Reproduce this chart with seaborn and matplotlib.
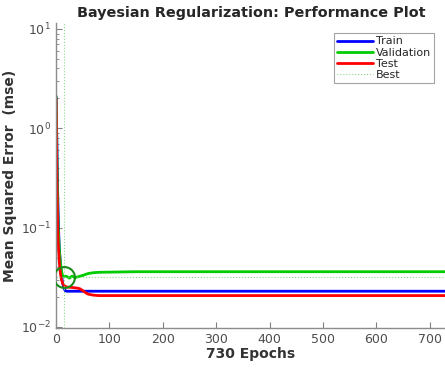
import matplotlib
matplotlib.use("Agg")
import matplotlib.pyplot as plt
import seaborn as sns

# ── data ─────────────────────────────────────────────────────────────────────
train_epochs = [0, 1, 2, 3, 4, 5, 6, 8, 10, 12, 15, 17, 20, 30, 60, 100, 730]
train_mse = [2.1, 1.0, 0.45, 0.22, 0.13, 0.085, 0.062, 0.044, 0.034, 0.028,
             0.0245, 0.0232, 0.0229, 0.0229, 0.0229, 0.0229, 0.0229]

val_epochs = [0, 1, 2, 3, 4, 6, 8, 10, 12, 15, 18, 22, 25, 30, 35, 40, 45,
              50, 55, 60, 70, 80, 150, 730]
val_mse = [2.1, 0.9, 0.35, 0.16, 0.1, 0.06, 0.045, 0.037, 0.033, 0.032,
           0.0325, 0.0318, 0.031, 0.0325, 0.0315, 0.0318, 0.0325, 0.033,
           0.0338, 0.0345, 0.0352, 0.0355, 0.036, 0.036]

test_epochs = [0, 1, 2, 3, 4, 6, 8, 10, 13, 16, 20, 30, 40, 45, 50, 55, 60,
               70, 80, 100, 730]
test_mse = [2.0, 0.55, 0.2, 0.1, 0.07, 0.045, 0.035, 0.03, 0.027, 0.0258,
            0.0252, 0.025, 0.0246, 0.0242, 0.0232, 0.0222, 0.0214, 0.0209,
            0.0207, 0.0207, 0.0207]

best_epoch = 15
best_mse = 0.032
n_epochs = 730

# ── plot ─────────────────────────────────────────────────────────────────────
sns.set_style("white")
plt.rcParams["font.family"] = ["DejaVu Sans"]

fig = plt.figure(figsize=(4.45, 3.71), dpi=100)
ax = fig.add_axes([0.126, 0.116, 0.876, 0.822])

sns.lineplot(x=train_epochs, y=train_mse, ax=ax, color=(0, 0, 1), lw=2, label="Train")
sns.lineplot(x=val_epochs, y=val_mse, ax=ax, color=(0, 0.8, 0), lw=2, label="Validation")
sns.lineplot(x=test_epochs, y=test_mse, ax=ax, color=(1, 0, 0), lw=2, label="Test")
ax.axvline(best_epoch, color=(0.55, 0.85, 0.55), lw=0.8, ls=":", label="Best")
ax.axhline(best_mse, color=(0.55, 0.85, 0.55), lw=0.8, ls=":")

ax.set_yscale("log")
ax.set_xlim(0, n_epochs)
ax.set_ylim(10 ** -2.01, 10 ** 1.06)

# best-point circle
ax.plot([best_epoch], [best_mse], marker="o", ms=15, mfc="none",
        mec=(0.1, 0.55, 0.1), mew=1.5, zorder=5)

ax.set_xticks(range(0, 701, 100))
ax.set_title("Bayesian Regularization: Performance Plot", fontsize=10.4,
             fontweight="bold", pad=4)
ax.set_xlabel(f"{n_epochs} Epochs", fontsize=10, fontweight="bold", labelpad=1,
              color=(0.2, 0.2, 0.2))
ax.set_ylabel("Mean Squared Error  (mse)", fontsize=10, fontweight="bold",
              color=(0.2, 0.2, 0.2), labelpad=3)

ax.tick_params(axis="both", which="both", direction="in", left=True, bottom=True,
               colors=(0.5, 0.5, 0.5), labelcolor=(0.3, 0.3, 0.3), labelsize=9)
ax.tick_params(which="major", length=4)
ax.tick_params(which="minor", length=2)
ax.tick_params(axis="x", which="minor", length=0)
for side in ("top", "right"):
    ax.spines[side].set_visible(False)
for side in ("left", "bottom"):
    ax.spines[side].set_color((0.55, 0.55, 0.55))
    ax.spines[side].set_linewidth(1)

leg = ax.legend(loc="upper right", fontsize=8, frameon=True, fancybox=False,
                handlelength=3.2, handletextpad=0.3, borderpad=0.3,
                labelspacing=0.1, bbox_to_anchor=(0.985, 0.985))
leg.get_frame().set_edgecolor((0.55, 0.55, 0.55))
leg.get_frame().set_linewidth(0.8)

fig.savefig("out.png", dpi=100)
